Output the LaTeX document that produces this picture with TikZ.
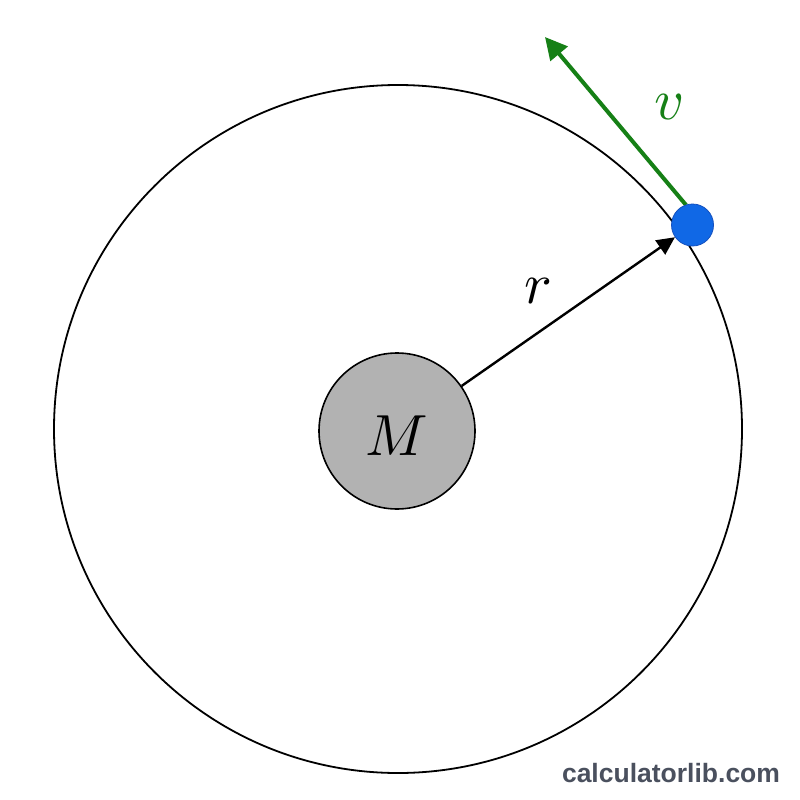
\documentclass[tikz,border=0pt]{standalone}
\usepackage{fontspec}
\usetikzlibrary{arrows.meta}
\newfontfamily\wmfont{Liberation Sans}
\definecolor{vgreen}{RGB}{22,128,22}
\definecolor{dotblue}{RGB}{16,104,230}
\definecolor{dotedge}{RGB}{20,80,190}
\definecolor{massgray}{RGB}{178,178,178}
\definecolor{wmgray}{RGB}{74,80,94}
\newcommand{\bigmath}[1]{\scalebox{5.8}{$#1$}}
\tikzset{
  orbit/.style={draw=black, line width=1.8pt},
  massbody/.style={circle, draw=black, line width=1.6pt, fill=massgray, minimum size=156pt, inner sep=0pt},
  satellite/.style={circle, draw=dotedge, line width=0.8pt, fill=dotblue, minimum size=42pt, inner sep=0pt},
  radius arrow/.style={draw=black, line width=2.4pt, -{Triangle[length=18pt,width=17pt]}},
  velocity arrow/.style={draw=vgreen, line width=4pt, -{Triangle[length=22pt,width=22pt]}},
  biglabel/.style={inner sep=0pt},
  watermark/.style={font=\wmfont\bfseries\fontsize{26.5}{28}\selectfont, text=wmgray, inner sep=0pt}
}
\begin{document}
\begin{tikzpicture}[x=1pt,y=-1pt]
\useasboundingbox (0,0) rectangle (800,800);
\fill[white] (0,0) rectangle (800,800);
\draw[orbit] (398,429) circle[radius=344];
\node[massbody] (M) at (397,431) {};
\node[biglabel] (Mlabel) at (397,436) {\bigmath{M}};
\coordinate (vtip) at (545,37);
\coordinate (vstart) at (686,205);
\draw[velocity arrow] (vstart) -- (vtip);
\node[satellite] (m) at (692.5,225) {};
\draw[radius arrow] (M) -- (m);
\node[biglabel] (rlabel) at (538,291) {\bigmath{r}};
\node[biglabel, text=vgreen] (vlabel) at (670,107) {\color{vgreen}\bigmath{v}};
\node[watermark] (wm) at (671,773) {calculatorlib.com};
\end{tikzpicture}
\end{document}
